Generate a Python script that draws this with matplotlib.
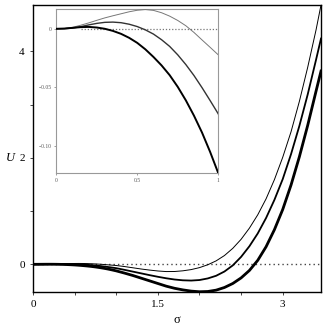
import matplotlib
matplotlib.use('Agg')
import matplotlib.pyplot as plt

# sigma grid and U values (three curves: thin, medium, thick)
sigma = [0.0, 0.05, 0.1, 0.15, 0.2, 0.25, 0.3, 0.35, 0.4, 0.45, 0.5, 0.55, 0.6, 0.65, 0.7,
         0.75, 0.8, 0.85, 0.9, 0.95, 1.0, 1.1, 1.2, 1.3, 1.4, 1.5, 1.6, 1.7, 1.8, 1.9,
         2.0, 2.1, 2.2, 2.3, 2.4, 2.5, 2.6, 2.7, 2.8, 2.9, 3.0, 3.1, 3.2, 3.3, 3.4, 3.46]

u_thin = [0.0, 0.0002, 0.0012, 0.003, 0.005, 0.0072, 0.0093, 0.0111, 0.0128, 0.0145, 0.0158, 0.0164, 0.0157, 0.0137, 0.0108,
          0.0071, 0.0026, -0.0031, -0.0095, -0.0158, -0.0222, -0.042, -0.065, -0.088, -0.108, -0.125, -0.136, -0.135, -0.122, -0.099,
          -0.062, -0.008, 0.065, 0.165, 0.30, 0.47, 0.68, 0.93, 1.23, 1.59, 2.01, 2.49, 3.06, 3.70, 4.40, 4.87]

u_mid = [0.0, 0.0001, 0.0006, 0.0018, 0.0033, 0.0046, 0.0055, 0.0057, 0.0052, 0.0039, 0.0019, -0.0009, -0.0045, -0.0093, -0.015,
         -0.0222, -0.0305, -0.0398, -0.0502, -0.0612, -0.0725, -0.104, -0.137, -0.17, -0.203, -0.234, -0.262, -0.285, -0.30, -0.305,
         -0.295, -0.265, -0.215, -0.135, -0.02, 0.14, 0.34, 0.58, 0.87, 1.21, 1.60, 2.07, 2.60, 3.19, 3.84, 4.24]

u_thick = [0.0, 0.0002, 0.0008, 0.0014, 0.0016, 0.0011, 0.0, -0.0018, -0.0043, -0.0077, -0.012, -0.0175, -0.024, -0.0312, -0.0395,
           -0.0495, -0.061, -0.074, -0.0885, -0.105, -0.123, -0.165, -0.21, -0.26, -0.31, -0.36, -0.41, -0.45, -0.48, -0.503,
           -0.515, -0.51, -0.485, -0.435, -0.36, -0.255, -0.115, 0.075, 0.33, 0.65, 1.03, 1.49, 2.02, 2.61, 3.25, 3.63]

serif = 'Liberation Serif'

fig = plt.figure(figsize=(3.27, 3.27), dpi=100)
ax = fig.add_axes([0.1009, 0.107, 0.8808, 0.8777])

ax.axhline(0, color='#444444', lw=1.0, linestyle=(0, (1, 2.2)), zorder=1)
ax.plot(sigma, u_thin, color='black', lw=0.7, zorder=3)
ax.plot(sigma, u_mid, color='black', lw=1.3, zorder=3)
ax.plot(sigma, u_thick, color='black', lw=2.0, zorder=3)

ax.set_xlim(0, 3.46)
ax.set_ylim(-0.52, 4.87)
ax.set_xticks([0, 0.5, 1.0, 1.5, 2.0, 2.5, 3.0])
ax.set_xticklabels(['0', '', '', '1.5', '', '', '3'])
ax.set_yticks([0, 1, 2, 3, 4])
ax.set_yticklabels(['0', '', '2', '', '4'])
ax.tick_params(direction='out', length=2, width=0.5, labelsize=8, pad=4)
for lab in ax.get_xticklabels() + ax.get_yticklabels():
    lab.set_family(serif)
for s in ax.spines.values():
    s.set_linewidth(1.0)

ax.set_xlabel('σ', family=serif, fontsize=9, labelpad=3)
ax.set_ylabel('U', family=serif, style='italic', fontsize=9, rotation=0, va='center')
ax.yaxis.set_label_coords(-0.08, 0.4675)

# inset
ins = fig.add_axes([0.172, 0.47, 0.4954, 0.5015])
ins.plot([0.15, 1.0], [0, 0], color='#777777', lw=0.9, linestyle=(0, (1, 1.5)), zorder=1)
ins.plot(sigma, u_thin, color='#777777', lw=0.7, zorder=3)
ins.plot(sigma, u_mid, color='#333333', lw=1.0, zorder=3)
ins.plot(sigma, u_thick, color='black', lw=1.4, zorder=3)
ins.set_xlim(0, 1)
ins.set_ylim(-0.1232, 0.0166)
ins.set_xticks([0, 0.5, 1])
ins.set_xticklabels(['0', '0.5', '1'])
ins.set_yticks([0, -0.05, -0.10])
ins.set_yticklabels(['0', '\u22120.05', '\u22120.10'])
ins.tick_params(direction='out', length=1.5, width=0.4, labelsize=4, pad=2,
                colors='#555555')
for lab in ins.get_xticklabels() + ins.get_yticklabels():
    lab.set_family(serif)
for s in ins.spines.values():
    s.set_linewidth(0.8)
    s.set_color('#999999')

fig.savefig('out.png', dpi=100)
print("Saved to out.png")
